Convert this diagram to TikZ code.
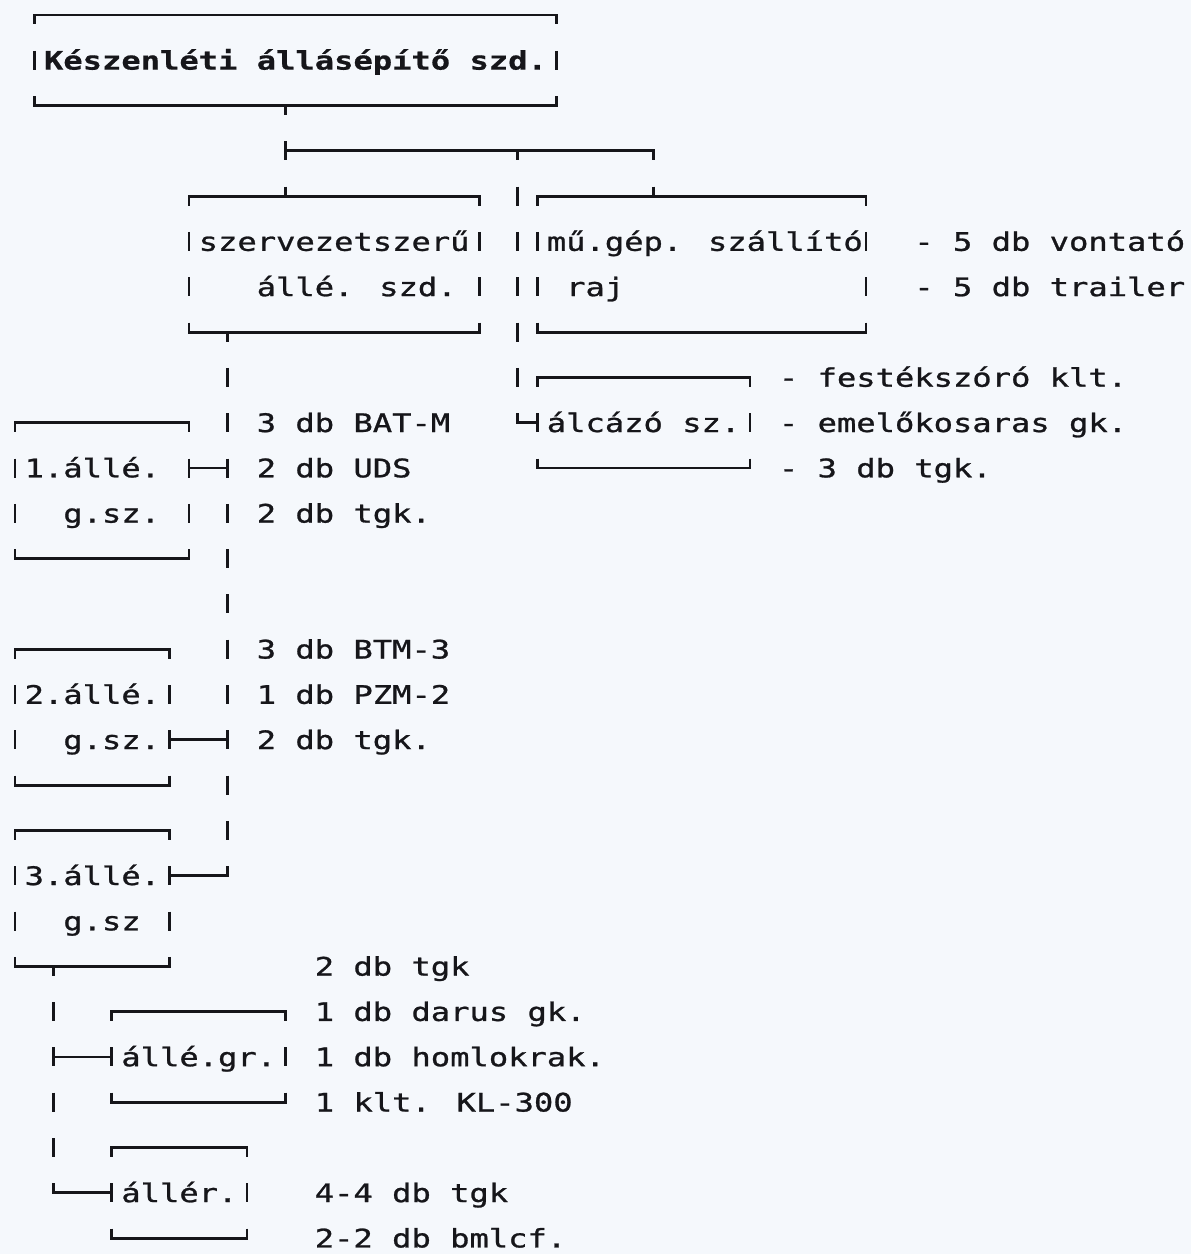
\documentclass[tikz,border=0pt]{standalone}
\usepackage{fontspec}
\newfontfamily\dmfont[FakeStretch=1.26,FakeBold=1]{DejaVu Sans Mono}
\newfontfamily\dmbfont[FakeStretch=1.26,FakeBold=0.6]{DejaVu Sans Mono Bold}
\usetikzlibrary{calc,fit}
\definecolor{paper}{RGB}{245,248,252}
\definecolor{ink}{RGB}{22,22,26}
\newcommand\ddframe[1]{%
  \draw[hline] (#1.north west) -- (#1.north east);
  \draw[hline] (#1.south west) -- (#1.south east);
  \draw[vline] (#1.north west) -- (#1.south west);
  \draw[vline] (#1.north east) -- (#1.south east);}
\begin{document}
\begin{tikzpicture}[x=19.34pt,y=-45.3pt,
  hline/.style={draw=ink,line width=2.8pt,line cap=rect},
  vline/.style={draw=ink,line width=2.8pt,dash pattern=on 19pt off 26.3pt,dash phase=9.5pt},
  boxframe/.style={inner sep=0pt,outer sep=0pt,draw=none},
  txt/.style={anchor=base west,inner sep=0pt,outer sep=0pt,text=ink,
    font=\dmfont\fontsize{25.5pt}{30pt}\selectfont,yshift=-9.3pt},
  txtb/.style={txt,font=\dmbfont\fontsize{25.5pt}{30pt}\selectfont}]
\useasboundingbox (-0.7756,-0.3311) rectangle (60.806,27.351);
\fill[paper] (-0.7756,-0.3311) rectangle (60.806,27.351);

% box frames (grid: columns x rows)
\node[boxframe,fit={(1,0) (28,2)}] (T) {};
\node[boxframe,fit={(9,4) (24,7)}] (S) {};
\node[boxframe,fit={(27,4) (44,7)}] (M) {};
\node[boxframe,fit={(27,8) (38,10)}] (A) {};
\node[boxframe,fit={(0,9) (9,12)}] (L1) {};
\node[boxframe,fit={(0,14) (8,17)}] (L2) {};
\node[boxframe,fit={(0,18) (8,21)}] (L3) {};
\node[boxframe,fit={(5,22) (14,24)}] (G) {};
\node[boxframe,fit={(5,25) (12,27)}] (R) {};
\foreach \b in {T,S,M,A,L1,L2,L3,G,R} {\ddframe{\b}}

% box texts
\node[txtb] (tT) at (1.5,1) {Készenléti állásépítő szd.};
\node[txt] (tS1) at (9.5,5) {szervezetszerű};
\node[txt] (tS2) at (12.5,6) {állé. szd.};
\node[txt] (tM1) at (27.5,5) {mű.gép. szállító};
\node[txt] (tM2) at (28.5,6) {raj};
\node[txt] (tA) at (27.5,9) {álcázó sz.};
\node[txt] (tL1a) at (0.5,10) {1.állé.};
\node[txt] (tL1b) at (2.5,11) {g.sz.};
\node[txt] (tL2a) at (0.5,15) {2.állé.};
\node[txt] (tL2b) at (2.5,16) {g.sz.};
\node[txt] (tL3a) at (0.5,19) {3.állé.};
\node[txt] (tL3b) at (2.5,20) {g.sz};
\node[txt] (tG) at (5.5,23) {állé.gr.};
\node[txt] (tR) at (5.5,26) {állér.};

% equipment lists
\node[txt] (e1) at (46.5,5) {- 5 db vontató};
\node[txt] (e2) at (46.5,6) {- 5 db trailer};
\node[txt] (e3) at (39.5,8) {- festékszóró klt.};
\node[txt] (e4) at (39.5,9) {- emelőkosaras gk.};
\node[txt] (e5) at (39.5,10) {- 3 db tgk.};
\node[txt] (e6) at (12.5,9) {3 db BAT-M};
\node[txt] (e7) at (12.5,10) {2 db UDS};
\node[txt] (e8) at (12.5,11) {2 db tgk.};
\node[txt] (e9) at (12.5,14) {3 db BTM-3};
\node[txt] (e10) at (12.5,15) {1 db PZM-2};
\node[txt] (e11) at (12.5,16) {2 db tgk.};
\node[txt] (e12) at (15.5,21) {2 db tgk};
\node[txt] (e13) at (15.5,22) {1 db darus gk.};
\node[txt] (e14) at (15.5,23) {1 db homlokrak.};
\node[txt] (e15) at (15.5,24) {1 klt. KL-300};
\node[txt] (e16) at (15.5,26) {4-4 db tgk};
\node[txt] (e17) at (15.5,27) {2-2 db bmlcf.};

% connectors
\coordinate (jT) at ($(T.south west)+(13,0)$);
\coordinate (jA) at (14,3);
\coordinate (jB) at (26,3);
\coordinate (jC) at (33,3);
\draw[vline] (jT) -- ($(S.north west)+(5,0)$);
\draw[hline] (jA) -- (jC);
\draw[vline] (jC) -- ($(M.north west)+(6,0)$);
\draw[vline] (jB) -- (jB |- A.west);
\draw[hline] (jB |- A.west) -- (A.west);

\coordinate (jS) at ($(S.south west)+(2,0)$);
\coordinate (k1) at ($(L1.north east)+(0,1)$);
\coordinate (k2) at ($(L2.north east)+(0,2)$);
\coordinate (k3) at ($(L3.north east)+(0,1)$);
\draw[vline] (jS) -- (k3 -| jS);
\draw[hline] (k1) -- (k1 -| jS);
\draw[hline] (k2) -- (k2 -| jS);
\draw[hline] (k3) -- (k3 -| jS);

\coordinate (jL) at ($(L3.south west)+(2,0)$);
\draw[vline] (jL) -- (jL |- R.west);
\draw[hline] (jL |- G.west) -- (G.west);
\draw[hline] (jL |- R.west) -- (R.west);
\end{tikzpicture}
\end{document}
